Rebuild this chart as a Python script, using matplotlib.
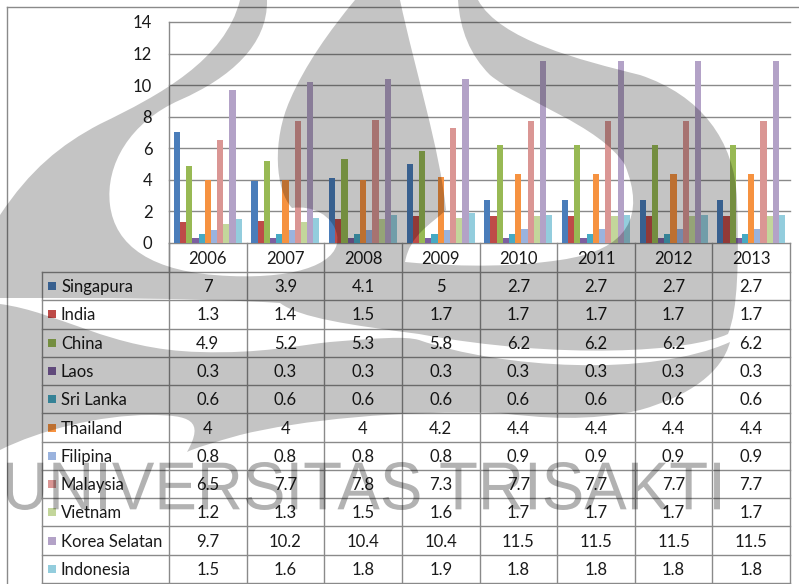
import matplotlib
matplotlib.use("Agg")
import matplotlib.pyplot as plt
import numpy as np
from matplotlib.path import Path
from matplotlib.patches import PathPatch, Rectangle
from matplotlib.textpath import TextPath
from matplotlib.font_manager import FontProperties
from matplotlib.transforms import Affine2D

# ---- data -------------------------------------------------------------
years = ["2006", "2007", "2008", "2009", "2010", "2011", "2012", "2013"]
countries = ["Singapura", "India", "China", "Laos", "Sri Lanka", "Thailand",
             "Filipina", "Malaysia", "Vietnam", "Korea Selatan", "Indonesia"]
singapura = [7, 3.9, 4.1, 5, 2.7, 2.7, 2.7, 2.7]
india = [1.3, 1.4, 1.5, 1.7, 1.7, 1.7, 1.7, 1.7]
china = [4.9, 5.2, 5.3, 5.8, 6.2, 6.2, 6.2, 6.2]
laos = [0.3, 0.3, 0.3, 0.3, 0.3, 0.3, 0.3, 0.3]
sri_lanka = [0.6, 0.6, 0.6, 0.6, 0.6, 0.6, 0.6, 0.6]
thailand = [4, 4, 4, 4.2, 4.4, 4.4, 4.4, 4.4]
filipina = [0.8, 0.8, 0.8, 0.8, 0.9, 0.9, 0.9, 0.9]
malaysia = [6.5, 7.7, 7.8, 7.3, 7.7, 7.7, 7.7, 7.7]
vietnam = [1.2, 1.3, 1.5, 1.6, 1.7, 1.7, 1.7, 1.7]
korea_selatan = [9.7, 10.2, 10.4, 10.4, 11.5, 11.5, 11.5, 11.5]
indonesia = [1.5, 1.6, 1.8, 1.9, 1.8, 1.8, 1.8, 1.8]
series = [singapura, india, china, laos, sri_lanka, thailand,
          filipina, malaysia, vietnam, korea_selatan, indonesia]
y_ticks = [0, 2, 4, 6, 8, 10, 12, 14]

colors = ["#4A7DBA", "#BE4B48", "#98B954", "#7D5FA0", "#46AAC4", "#F69240",
          "#9AB3DE", "#DA9694", "#C3D69B", "#B3A2C7", "#93CDDD"]

# ---- layout (pixels) --------------------------------------------------
W, H = 799, 584
plot_l, plot_r = 169, 790
plot_t, plot_b = 22, 243
legend_l = 42
row_top = 272
row_h = (583 - row_top) / len(countries)
line_c = "#8A8A8A"
txt_c = "#1A1A1A"
font = "Lato"
fs = 12

fig = plt.figure(figsize=(W / 100, H / 100), dpi=100)
fig.patch.set_facecolor("white")

# ---- bar chart --------------------------------------------------------
ax = fig.add_axes([plot_l / W, 1 - plot_b / H, (plot_r - plot_l) / W,
                   (plot_b - plot_t) / H])
n = len(series)
bw = 0.876 / n
x = np.arange(len(years))
for j, (vals, c) in enumerate(zip(series, colors)):
    ax.bar(x + (j - (n - 1) / 2) * bw, vals, width=bw, color=c,
           edgecolor="none", zorder=3)
ax.set_xlim(-0.5, len(years) - 0.5)
ax.set_ylim(0, 14)
ax.set_yticks(y_ticks)
ax.set_yticklabels([str(t) for t in y_ticks], fontsize=fs, family=font,
                   color=txt_c)
ax.tick_params(axis="y", length=0, pad=12)
ax.set_xticks([])
ax.yaxis.grid(True, color=line_c, linewidth=1.0, zorder=0)
for gl in ax.get_ygridlines():
    gl.set_clip_on(False)
for s in ["top", "right", "bottom"]:
    ax.spines[s].set_visible(False)
ax.spines["left"].set_color(line_c)
ax.spines["left"].set_linewidth(1.0)
ax.set_facecolor("none")

# ---- data table + frame (pixel overlay) -------------------------------
ov = fig.add_axes([0, 0, 1, 1])
ov.set_xlim(0, W)
ov.set_ylim(H, 0)
ov.axis("off")
ov.set_facecolor("none")

# chart frame
ov.plot([7, W], [7, 7], color=line_c, lw=1.0)
ov.plot([7, 7], [7, H], color=line_c, lw=1.0)

col_w = (plot_r - plot_l) / len(years)
# header row
ov.plot([plot_l, plot_l], [plot_b, row_top], color=line_c, lw=1.0)
for i, yr in enumerate(years):
    cx = plot_l + (i + 0.5) * col_w
    ov.text(cx, (plot_b + row_top) / 2 + 1, yr, ha="center", va="center",
            fontsize=fs, family=font, color=txt_c)
for i in range(len(years) + 1):
    xx = plot_l + i * col_w
    ov.plot([xx, xx], [plot_b, 583], color=line_c, lw=1.0)
ov.plot([legend_l, legend_l], [row_top, 583], color=line_c, lw=1.0)
for r in range(len(countries) + 1):
    yy = row_top + r * row_h
    ov.plot([legend_l, plot_r], [yy, yy], color=line_c, lw=1.0)

for r, (name, vals, c) in enumerate(zip(countries, series, colors)):
    cy = row_top + (r + 0.5) * row_h
    ov.add_patch(Rectangle((48, cy - 4), 8, 8, facecolor=c, edgecolor="none"))
    ov.text(61, cy + 1, name, ha="left", va="center", fontsize=fs,
            family=font, color=txt_c)
    for i, v in enumerate(vals):
        cx = plot_l + (i + 0.5) * col_w
        ov.text(cx, cy + 1, f"{v:g}", ha="center", va="center", fontsize=fs,
                family=font, color=txt_c)


# ---- watermark --------------------------------------------------------
def shape(start, segs):
    verts = [start]
    codes = [Path.MOVETO]
    for s in segs:
        if s[0] == "L":
            verts.append(s[1])
            codes.append(Path.LINETO)
        else:
            verts += [s[1], s[2], s[3]]
            codes += [Path.CURVE4] * 3
    verts.append(start)
    codes.append(Path.CLOSEPOLY)
    return Path(verts, codes)


wm_gray = (0, 0, 0, 0.23)

arm = shape((240, 0), [
    ("L", (267, 0)),
    ("C", (268, 45), (230, 78), (180, 100)),
    ("C", (130, 122), (105, 165), (110, 205)),
    ("C", (115, 245), (150, 273), (230, 276)),
    ("C", (300, 279), (342, 262), (337, 235)),
    ("C", (333, 215), (312, 205), (292, 208)),
    ("C", (275, 190), (272, 140), (290, 100)),
    ("C", (305, 65), (330, 30), (355, 0)),
    ("L", (400, 0)),
    ("C", (415, 70), (440, 150), (446, 210)),
    ("C", (430, 225), (410, 235), (405, 262)),
    ("C", (470, 268), (520, 266), (560, 260)),
    ("C", (630, 250), (645, 215), (625, 165)),
    ("C", (600, 125), (520, 100), (490, 75)),
    ("C", (470, 55), (460, 30), (458, 0)),
    ("L", (478, 0)),
    ("C", (500, 40), (580, 60), (640, 75)),
    ("C", (700, 95), (735, 140), (737, 200)),
    ("C", (739, 260), (738, 310), (728, 334)),
    ("C", (690, 352), (560, 360), (419, 334)),
    ("C", (350, 325), (300, 318), (280, 303)),
    ("C", (200, 298), (100, 298), (0, 298)),
    ("L", (0, 215)),
    ("C", (30, 170), (60, 145), (100, 124)),
    ("C", (160, 95), (225, 60), (240, 0)),
])

crescent = shape((0, 304), [
    ("C", (60, 312), (110, 350), (200, 352)),
    ("C", (260, 354), (300, 345), (330, 342)),
    ("C", (380, 338), (405, 336), (419, 340)),
    ("C", (500, 368), (650, 378), (730, 342)),
    ("C", (722, 372), (690, 396), (640, 410)),
    ("C", (590, 422), (540, 418), (500, 413)),
    ("C", (400, 410), (300, 420), (240, 435)),
    ("C", (215, 442), (195, 448), (187, 452)),
    ("C", (205, 420), (190, 415), (150, 415)),
    ("C", (100, 415), (40, 430), (0, 450)),
])

for p in (arm, crescent):
    ov.add_patch(PathPatch(p, facecolor=wm_gray, edgecolor="none",
                           zorder=10))

tp = TextPath((0, 0), "UNIVERSITAS TRISAKTI", size=1,
              prop=FontProperties(family="Liberation Sans"))
ext = tp.get_extents()
sx = (720 - 7) / ext.width
sy = (510 - 462) / ext.height
tr = Affine2D().translate(-ext.x0, -ext.y0).scale(sx, -sy).translate(7, 510)
ov.add_patch(PathPatch(tr.transform_path(tp), facecolor=(0, 0, 0, 0.3),
                       edgecolor="none", zorder=11))

fig.savefig("out.png", dpi=100)
